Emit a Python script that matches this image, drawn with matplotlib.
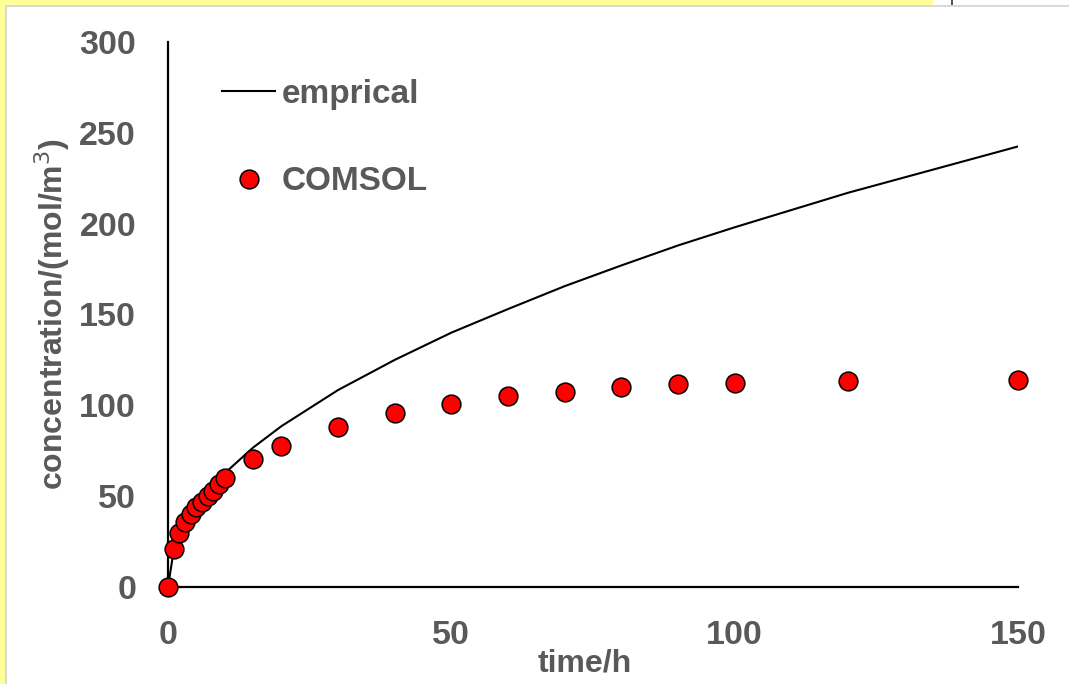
import matplotlib.pyplot as plt
from matplotlib.patches import Rectangle
from matplotlib.lines import Line2D

TEXT_COLOR = "#595959"
POINT_COLOR = "#FF0000"
BORDER_YELLOW = "#FFFF99"
BORDER_GRAY = "#D9D9D9"

time_h = [0, 1, 2, 3, 4, 5, 6, 7, 8, 9, 10, 15, 20, 30, 40, 50, 60, 70, 80, 90, 100, 120, 150]
empirical = [0, 20, 28, 34, 40, 44, 48.5, 52, 56, 59, 62.6, 76.7, 88.5, 108.4, 125, 140,
             153, 165.6, 177, 188, 198, 217, 242.5]
comsol = [0, 21, 29.7, 35.8, 40, 44, 47, 50, 53, 56.5, 60, 70.4, 77.6, 88, 95.8, 100.7,
          105, 107.3, 110, 111.7, 112.3, 113.4, 114]

x_ticks = [0, 50, 100, 150]
y_ticks = [0, 50, 100, 150, 200, 250, 300]

fig = plt.figure(figsize=(10.69, 6.84), dpi=100)
fig.patch.set_facecolor("white")

# yellow frame leftovers from the screenshot
fig.add_artist(Rectangle((0, 0), 5 / 1069, 1, transform=fig.transFigure, color=BORDER_YELLOW, lw=0))
fig.add_artist(Rectangle((0, 1 - 5 / 684), 933 / 1069, 5 / 684, transform=fig.transFigure,
                         color=BORDER_YELLOW, lw=0))
fig.add_artist(Rectangle((5 / 1069, 0), 2 / 1069, 1 - 5 / 684, transform=fig.transFigure,
                         color=BORDER_GRAY, lw=0))
fig.add_artist(Rectangle((5 / 1069, 1 - 7 / 684), 1 - 5 / 1069, 2 / 684, transform=fig.transFigure,
                         color=BORDER_GRAY, lw=0))
fig.add_artist(Rectangle((951 / 1069, 1 - 5 / 684), 2 / 1069, 5 / 684, transform=fig.transFigure,
                         color="#555555", lw=0))

ax = fig.add_axes([168 / 1069, 1 - 587 / 684, 850 / 1069, 545 / 684])
ax.set_xlim(0, 150)
ax.set_ylim(0, 300)

ax.plot(time_h, empirical, color="black", lw=1.5, zorder=2)
ax.plot(time_h, comsol, "o", ms=13.5, mfc=POINT_COLOR, mec="black", mew=1.1,
        clip_on=False, zorder=3)

for s in ["top", "right"]:
    ax.spines[s].set_visible(False)
for s in ["left", "bottom"]:
    ax.spines[s].set_linewidth(1.6)
    ax.spines[s].set_color("black")

ax.set_xticks(x_ticks)
ax.set_yticks(y_ticks)
ax.tick_params(length=0, labelcolor=TEXT_COLOR)
for lab in ax.get_xticklabels() + ax.get_yticklabels():
    lab.set_fontfamily(["Liberation Sans", "DejaVu Sans"])
    lab.set_fontweight("bold")
    lab.set_fontsize(24.5)
ax.tick_params(axis="y", pad=23)
ax.tick_params(axis="x", pad=24)

label_font = dict(family=["Liberation Sans", "DejaVu Sans"],
                  weight="bold", size=23, color=TEXT_COLOR)
ax.set_xlabel("time/h", **label_font)
ax.xaxis.set_label_coords(417 / 850, -0.113)
ax.set_ylabel("concentration/(mol/m$^{3}$)", labelpad=5, **label_font)

handles = [
    Line2D([], [], color="black", lw=1.5),
    Line2D([], [], ls="none", marker="o", ms=13.5, mfc=POINT_COLOR, mec="black", mew=1.1),
]
leg = ax.legend(handles, ["emprical", "COMSOL"], frameon=False, loc="upper left",
                bbox_to_anchor=(192 / 1069, 1 - 49 / 684), bbox_transform=fig.transFigure,
                handlelength=1.6, handletextpad=0.18, labelspacing=1.69,
                prop=dict(family=["Liberation Sans", "DejaVu Sans"], weight="bold", size=24))
for t in leg.get_texts():
    t.set_color(TEXT_COLOR)

fig.savefig("out.png", dpi=100)
